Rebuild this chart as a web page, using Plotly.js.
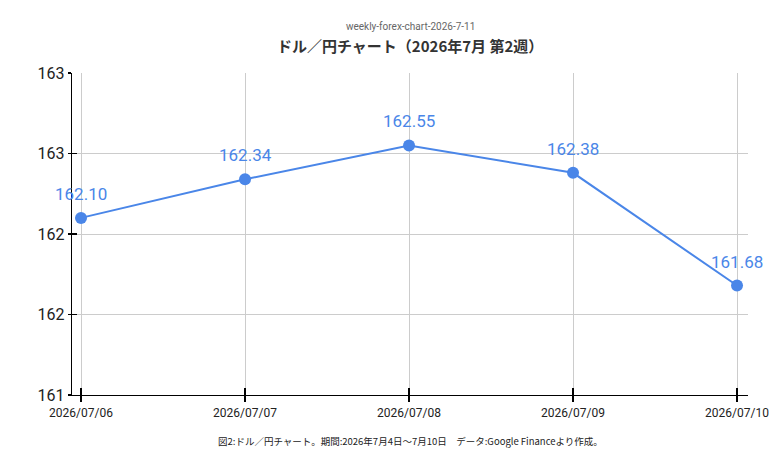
<!DOCTYPE html>
<html>
<head>
<meta charset="utf-8">
<script src="https://cdn.plot.ly/plotly-3.0.1.min.js"></script>
<style>html,body{margin:0;padding:0;background:#fff}#chart{width:779px;height:468px}</style>
</head>
<body>
<div id="chart"></div>
<script>
const dates = ["2026/07/06", "2026/07/07", "2026/07/08", "2026/07/09", "2026/07/10"];
const rates = [162.10, 162.34, 162.55, 162.38, 161.68];
const rateLabels = ["162.10", "162.34", "162.55", "162.38", "161.68"];
const yTickVals = [161, 161.5, 162, 162.5, 163];
const yTickText = ["161", "162", "162", "163", "163"];
const chartSupTitle = "weekly-forex-chart-2026-7-11";
const chartTitle = "ドル／円チャート（2026年7月 第2週）";
const caption = "図2:ドル／円チャート。期間:2026年7月4日～7月10日　データ:Google Financeより作成。";

const blue = "#4a86e8";
const xRange = [-0.055, 4.067];
const yRange = [161, 163];

const main = {
  x: dates, y: rates,
  type: "scatter", mode: "lines+markers",
  line: {color: blue, width: 2},
  marker: {color: blue, size: 12},
  cliponaxis: false,
  hoverinfo: "skip", showlegend: false
};
const ghost = {
  x: dates, y: rates, xaxis: "x2", yaxis: "y2",
  type: "scatter", mode: "markers", marker: {opacity: 0},
  hoverinfo: "skip", showlegend: false
};

const labelAnns = dates.map((d, i) => ({
  x: d, y: rates[i], xref: "x", yref: "y", text: rateLabels[i],
  showarrow: false, xanchor: "center", yanchor: "middle", yshift: 24,
  font: {family: "Roboto, Arial, sans-serif", size: 17, color: blue}
}));

const layout = {
  width: 779, height: 468,
  margin: {l: 72, r: 31, t: 73, b: 73},
  paper_bgcolor: "#fff", plot_bgcolor: "#fff",
  showlegend: false,
  xaxis: {
    type: "category", range: xRange,
    showgrid: true, gridcolor: "#cccccc", gridwidth: 1,
    showline: true, linecolor: "#000", linewidth: 1.2,
    ticks: "outside", ticklen: 6, tickwidth: 2, tickcolor: "#000",
    tickfont: {family: "Roboto, Arial, sans-serif", size: 12, color: "#222"},
    zeroline: false, fixedrange: true
  },
  yaxis: {
    range: yRange, tickvals: yTickVals, ticktext: yTickText,
    showgrid: true, gridcolor: "#cccccc", gridwidth: 1,
    showline: true, linecolor: "#000", linewidth: 1.2,
    ticks: "outside", ticklen: 3, tickwidth: 1.5, tickcolor: "#000",
    tickfont: {family: "Roboto, Arial, sans-serif", size: 16, color: "#222"},
    zeroline: false, fixedrange: true
  },
  xaxis2: {
    type: "category", range: xRange, overlaying: "x", anchor: "y2",
    showgrid: false, showline: false, showticklabels: false,
    ticks: "inside", ticklen: 7, tickwidth: 2, tickcolor: "#000",
    zeroline: false, fixedrange: true
  },
  yaxis2: {
    range: yRange, tickvals: yTickVals, overlaying: "y", anchor: "x2",
    showgrid: false, showline: false, showticklabels: false,
    ticks: "inside", ticklen: 5, tickwidth: 1.5, tickcolor: "#000",
    zeroline: false, fixedrange: true
  },
  annotations: labelAnns.concat([
    {text: chartSupTitle, xref: "paper", yref: "paper", x: 0.5, y: 1, yshift: 47,
     showarrow: false, xanchor: "center", yanchor: "middle",
     font: {family: "Roboto, Arial, sans-serif", size: 10, color: "#666"}},
    {text: "<b>" + chartTitle + "</b>", xref: "paper", yref: "paper", x: 0.5, y: 1, yshift: 28,
     showarrow: false, xanchor: "center", yanchor: "middle",
     font: {family: "Noto Sans CJK JP, sans-serif", size: 15, color: "#333"}},
    {text: caption, xref: "paper", yref: "paper", x: 0.5, y: 0, yshift: -46,
     showarrow: false, xanchor: "center", yanchor: "middle",
     font: {family: "Noto Sans CJK JP, sans-serif", size: 9.5, color: "#222"}}
  ])
};

Plotly.newPlot("chart", [main, ghost], layout, {displayModeBar: false, staticPlot: true});
</script>
</body>
</html>
